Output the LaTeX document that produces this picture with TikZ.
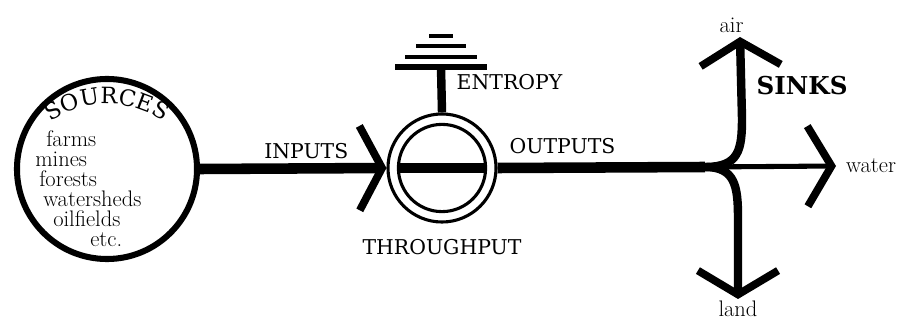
\documentclass[tikz,border=0pt]{standalone}
\usepackage{fontspec}
\usepackage{tikz}
\usetikzlibrary{arrows.meta, positioning, calc, decorations.text}
\newfontfamily\letterfont{DejaVu Serif}

\begin{document}
\begin{tikzpicture}[
  x=0.025cm, y=-0.025cm,
  pipe/.style={line width=7.5pt},
  thin pipe/.style={line width=3.6pt},
  inbarb/.style={-{Straight Barb[length=16pt, width=60pt, line width=5.5pt]}},
  outbarb/.style={-{Straight Barb[length=17pt, width=57pt, line width=5.5pt]}},
  ring/.style={circle, draw=black, line width=2.2pt, inner sep=0pt},
  lbl/.style={font=\letterfont\fontsize{14.5}{17}\selectfont, inner sep=1pt},
  hand/.style={font=\fontsize{16}{18}\selectfont, inner sep=1pt},
  bar/.style={line width=3.6pt}
]
\useasboundingbox (0,0) rectangle (910,327);

% source and throughput
\node[circle, draw=black, line width=4.3pt, minimum size=4.5cm] (src) at (107,169) {};
\node[ring, minimum size=2.7cm] (thr) at (442,168) {};
\node[ring, minimum size=2.18cm] (thrin) at (442,168) {};

% inputs, outputs
\draw[pipe, inbarb] (src.east) -- (thr.west);
\draw[pipe] (thrin.west) -- (thrin.east);
\coordinate (fork) at (705,167);
\draw[pipe] (thr.east) -- (fork);

\coordinate (inmid) at ($(src.east)!0.57!(thr.west)$);
\node[lbl, above=6pt of inmid] (inputs) {INPUTS};
\node[lbl, anchor=south west] (outputs) at (508,155) {OUTPUTS};
\node[lbl, below=10pt of thr] (through) {THROUGHPUT};

% entropy
\coordinate (ent) at (441,67);
\draw[pipe, line width=6pt] (thr.north) -- (ent);
\foreach \w/\dy/\lw in {46/0/3.6, 36/10/3.2, 25/21/2.8, 12/31/2.4}
  \draw[bar, line width=\lw pt] ($(ent)+(-\w,-\dy)$) -- ($(ent)+(\w,-\dy)$);
\node[lbl, anchor=west] (entropy) at (455,82) {ENTROPY};

% sinks
\coordinate (airbend) at (742,118);
\coordinate (airtip) at (740,37);
\coordinate (landbend) at (738,218);
\coordinate (landtip) at (738,299);
\coordinate (watertip) at (836,166);
\draw[pipe, line width=6pt, outbarb] (fork) .. controls +(34,0) and +(0,32) .. (airbend) -- (airtip);
\draw[pipe, line width=6pt, outbarb] (fork) .. controls +(30,0) and +(0,-32) .. (landbend) -- (landtip);
\draw[thin pipe, outbarb] (fork) -- (watertip);

\node[hand, above=2pt of airtip, xshift=-6pt] (air) {air};
\node[hand, below=0pt of landtip] (land) {land};
\node[hand, right=6pt of watertip] (water) {water};
\node[lbl, font=\letterfont\fontsize{17.5}{20}\selectfont\bfseries, anchor=west] (sinks) at (755,86) {SINKS};

% source list
\path[decorate, decoration={text along path, text align={fit to path},
  text={|\letterfont\fontsize{16}{19}\selectfont|SOURCES}}]
  (107,205) ++(236:101) arc (236:304:101);
\foreach \txt/\px/\py [count=\i] in {farms/46/147, mines/35/167, forests/39/187,
    watersheds/43/207, oilfields/53/227, etc./90/247}
  \node[hand, inner sep=0pt, anchor=base west] (item\i) at (\px,\py) {\txt};
\end{tikzpicture}
\end{document}
